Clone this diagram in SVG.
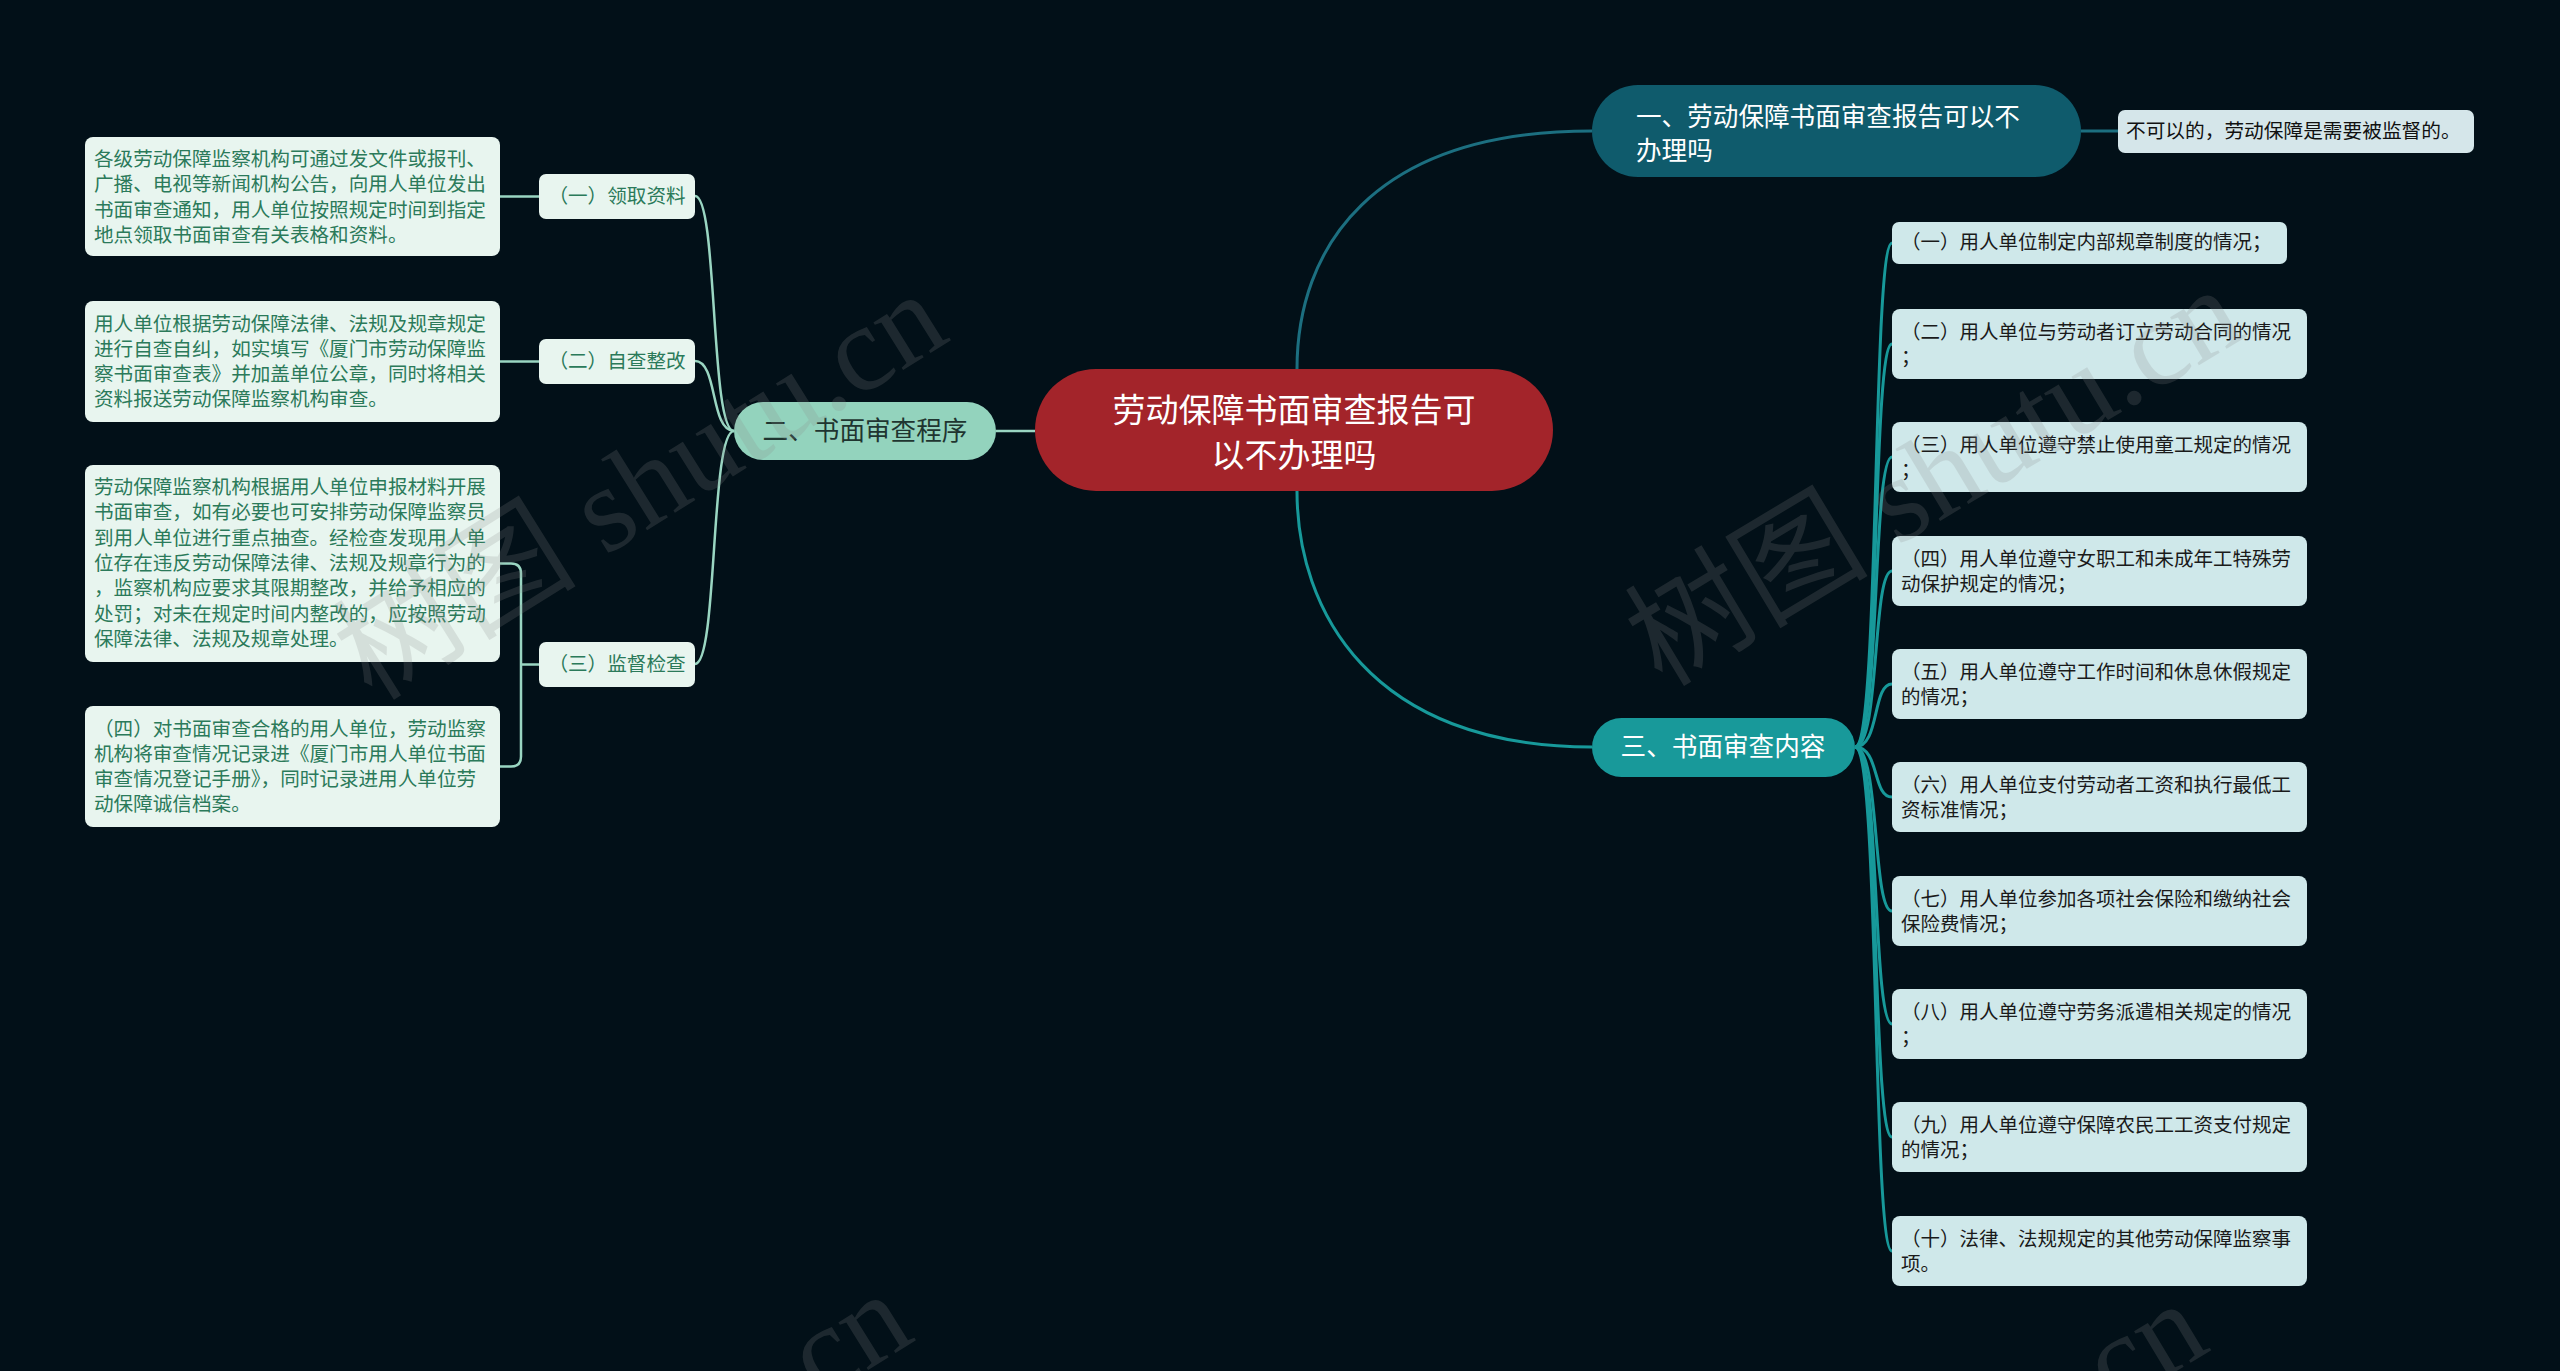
<svg xmlns="http://www.w3.org/2000/svg" width="2560" height="1371" viewBox="0 0 2560 1371">
<defs>
<style>
text{font-family:"Noto Sans CJK SC","Noto Sans",sans-serif;dominant-baseline:central}
.lbox{fill:#e8f5ef}
.ltxt{fill:#2b7a5a;font-size:19.6px}
.rbox{fill:#cfe8ea}
.rtxt{fill:#1a1a1a;font-size:19.5px}
.lc{fill:none;stroke:#9ad6c2;stroke-width:2.5}
.rc{fill:none;stroke:#17999a;stroke-width:3}
.wm{font-family:"Liberation Serif","Noto Sans CJK SC",serif;font-size:122px;fill:#8a8a8a;opacity:0.2;dominant-baseline:auto}
</style>
</defs>
<rect x="0" y="0" width="2560" height="1371" fill="#021018"/>

<g id="connectors">
<path d="M1297,369 C1297,250 1370,131 1592,131" fill="none" stroke="#1c6f80" stroke-width="3"/>
<path d="M1297,491 C1297,610 1370,747 1592,747" fill="none" stroke="#17999a" stroke-width="3"/>
<path d="M2081,131 L2118,131" fill="none" stroke="#1c6f80" stroke-width="3"/>
<path d="M996,431 L1035,431" class="lc"/>
<path d="M734,431 C710,431 718,196 695,196" class="lc"/>
<path d="M734,431 C710,431 718,361 695,361" class="lc"/>
<path d="M734,431 C710,431 718,664 695,664" class="lc"/>
<path d="M500,196.5 L539,196.5" class="lc"/>
<path d="M500,361.5 L539,361.5" class="lc"/>
<path d="M539,664.5 L521,664.5 M500,563.5 L511,563.5 Q521,563.5 521,573.5 L521,756.5 Q521,766.5 511,766.5 L500,766.5" class="lc"/>
<path d="M1855,747 C1880,747 1872,243 1892,243" class="rc"/>
<path d="M1855,747 C1880,747 1872,344 1892,344" class="rc"/>
<path d="M1855,747 C1880,747 1872,457 1892,457" class="rc"/>
<path d="M1855,747 C1880,747 1872,571 1892,571" class="rc"/>
<path d="M1855,747 C1880,747 1872,684 1892,684" class="rc"/>
<path d="M1855,747 C1880,747 1872,797 1892,797" class="rc"/>
<path d="M1855,747 C1880,747 1872,911 1892,911" class="rc"/>
<path d="M1855,747 C1880,747 1872,1024 1892,1024" class="rc"/>
<path d="M1855,747 C1880,747 1872,1137 1892,1137" class="rc"/>
<path d="M1855,747 C1880,747 1872,1251 1892,1251" class="rc"/>
</g>

<g id="root">
<rect x="1035" y="369" width="518" height="122" rx="61" fill="#a3242a"/>
<text x="1294" y="408" fill="#ffffff" font-size="33" text-anchor="middle">劳动保障书面审查报告可</text>
<text x="1294" y="453" fill="#ffffff" font-size="33" text-anchor="middle">以不办理吗</text>
</g>

<g id="n1">
<rect x="1592" y="85" width="489" height="92" rx="46" fill="#0f5b6c"/>
<text x="1636" y="114" fill="#ffffff" font-size="25.6">一、劳动保障书面审查报告可以不</text>
<text x="1636" y="148" fill="#ffffff" font-size="25.6">办理吗</text>
</g>
<g id="n1a">
<rect x="2118" y="110" width="356" height="43" rx="7" fill="#d5e6ea"/>
<text x="2126" y="129.5" fill="#111111" font-size="19.7">不可以的，劳动保障是需要被监督的。</text>
</g>

<g id="n2">
<rect x="734" y="402" width="262" height="58" rx="29" fill="#93d3bd"/>
<text x="865" y="428" fill="#1f3530" font-size="25.6" text-anchor="middle">二、书面审查程序</text>
</g>
<g id="n2a">
<rect x="539" y="174" width="156" height="45" rx="7" class="lbox"/>
<text x="617" y="194" class="ltxt" text-anchor="middle">（一）领取资料</text>
</g>
<g id="n2a1">
<rect x="85" y="137" width="415" height="119" rx="8" class="lbox"/>
<text class="ltxt"><tspan x="94" y="157">各级劳动保障监察机构可通过发文件或报刊、</tspan><tspan x="94" y="182.3">广播、电视等新闻机构公告，向用人单位发出</tspan><tspan x="94" y="207.6">书面审查通知，用人单位按照规定时间到指定</tspan><tspan x="94" y="232.9">地点领取书面审查有关表格和资料。</tspan></text>
</g>
<g id="n2b">
<rect x="539" y="339" width="156" height="45" rx="7" class="lbox"/>
<text x="617" y="359" class="ltxt" text-anchor="middle">（二）自查整改</text>
</g>
<g id="n2b1">
<rect x="85" y="301" width="415" height="121" rx="8" class="lbox"/>
<text class="ltxt"><tspan x="94" y="321.5">用人单位根据劳动保障法律、法规及规章规定</tspan><tspan x="94" y="346.8">进行自查自纠，如实填写《厦门市劳动保障监</tspan><tspan x="94" y="372.1">察书面审查表》并加盖单位公章，同时将相关</tspan><tspan x="94" y="397.4">资料报送劳动保障监察机构审查。</tspan></text>
</g>
<g id="n2c">
<rect x="539" y="642" width="156" height="45" rx="7" class="lbox"/>
<text x="617" y="662" class="ltxt" text-anchor="middle">（三）监督检查</text>
</g>
<g id="n2c1">
<rect x="85" y="465" width="415" height="197" rx="8" class="lbox"/>
<text class="ltxt"><tspan x="94" y="485">劳动保障监察机构根据用人单位申报材料开展</tspan><tspan x="94" y="510.3">书面审查，如有必要也可安排劳动保障监察员</tspan><tspan x="94" y="535.6">到用人单位进行重点抽查。经检查发现用人单</tspan><tspan x="94" y="560.9">位存在违反劳动保障法律、法规及规章行为的</tspan><tspan x="94" y="586.2">，监察机构应要求其限期整改，并给予相应的</tspan><tspan x="94" y="611.5">处罚；对未在规定时间内整改的，应按照劳动</tspan><tspan x="94" y="636.8">保障法律、法规及规章处理。</tspan></text>
</g>
<g id="n2c2">
<rect x="85" y="706" width="415" height="121" rx="8" class="lbox"/>
<text class="ltxt"><tspan x="94" y="726.5">（四）对书面审查合格的用人单位，劳动监察</tspan><tspan x="94" y="751.8">机构将审查情况记录进《厦门市用人单位书面</tspan><tspan x="94" y="777.1">审查情况登记手册》，同时记录进用人单位劳</tspan><tspan x="94" y="802.4">动保障诚信档案。</tspan></text>
</g>

<g id="n3">
<rect x="1592" y="718" width="263" height="59" rx="29.5" fill="#18999a"/>
<text x="1723" y="744.5" fill="#ffffff" font-size="25.6" text-anchor="middle">三、书面审查内容</text>
</g>
<g id="n3a">
<rect x="1892" y="222" width="395" height="42" rx="7" class="rbox"/>
<text x="1901" y="240.5" class="rtxt">（一）用人单位制定内部规章制度的情况；</text>
</g>
<g id="n3b">
<rect x="1892" y="309" width="415" height="70" rx="8" class="rbox"/>
<text class="rtxt"><tspan x="1901" y="329.5">（二）用人单位与劳动者订立劳动合同的情况</tspan><tspan x="1901" y="354.5">；</tspan></text>
</g>
<g id="n3c">
<rect x="1892" y="422" width="415" height="70" rx="8" class="rbox"/>
<text class="rtxt"><tspan x="1901" y="442.5">（三）用人单位遵守禁止使用童工规定的情况</tspan><tspan x="1901" y="467.5">；</tspan></text>
</g>
<g id="n3d">
<rect x="1892" y="536" width="415" height="70" rx="8" class="rbox"/>
<text class="rtxt"><tspan x="1901" y="556.5">（四）用人单位遵守女职工和未成年工特殊劳</tspan><tspan x="1901" y="581.5">动保护规定的情况；</tspan></text>
</g>
<g id="n3e">
<rect x="1892" y="649" width="415" height="70" rx="8" class="rbox"/>
<text class="rtxt"><tspan x="1901" y="669.5">（五）用人单位遵守工作时间和休息休假规定</tspan><tspan x="1901" y="694.5">的情况；</tspan></text>
</g>
<g id="n3f">
<rect x="1892" y="762" width="415" height="70" rx="8" class="rbox"/>
<text class="rtxt"><tspan x="1901" y="782.5">（六）用人单位支付劳动者工资和执行最低工</tspan><tspan x="1901" y="807.5">资标准情况；</tspan></text>
</g>
<g id="n3g">
<rect x="1892" y="876" width="415" height="70" rx="8" class="rbox"/>
<text class="rtxt"><tspan x="1901" y="896.5">（七）用人单位参加各项社会保险和缴纳社会</tspan><tspan x="1901" y="921.5">保险费情况；</tspan></text>
</g>
<g id="n3h">
<rect x="1892" y="989" width="415" height="70" rx="8" class="rbox"/>
<text class="rtxt"><tspan x="1901" y="1009.5">（八）用人单位遵守劳务派遣相关规定的情况</tspan><tspan x="1901" y="1034.5">；</tspan></text>
</g>
<g id="n3i">
<rect x="1892" y="1102" width="415" height="70" rx="8" class="rbox"/>
<text class="rtxt"><tspan x="1901" y="1122.5">（九）用人单位遵守保障农民工工资支付规定</tspan><tspan x="1901" y="1147.5">的情况；</tspan></text>
</g>
<g id="n3j">
<rect x="1892" y="1216" width="415" height="70" rx="8" class="rbox"/>
<text class="rtxt"><tspan x="1901" y="1236.5">（十）法律、法规规定的其他劳动保障监察事</tspan><tspan x="1901" y="1261.5">项。</tspan></text>
</g>

<g id="watermarks">
<text class="wm" x="0" y="0" transform="translate(372,702) rotate(-32)">树图 shutu.cn</text>
<text class="wm" x="0" y="0" transform="translate(1662,688) rotate(-31)">树图 shutu.cn</text>
<text class="wm" x="0" y="0" transform="translate(337,1702) rotate(-32)">树图 shutu.cn</text>
<text class="wm" x="0" y="0" transform="translate(1626,1702) rotate(-31)">树图 shutu.cn</text>
</g>
</svg>
